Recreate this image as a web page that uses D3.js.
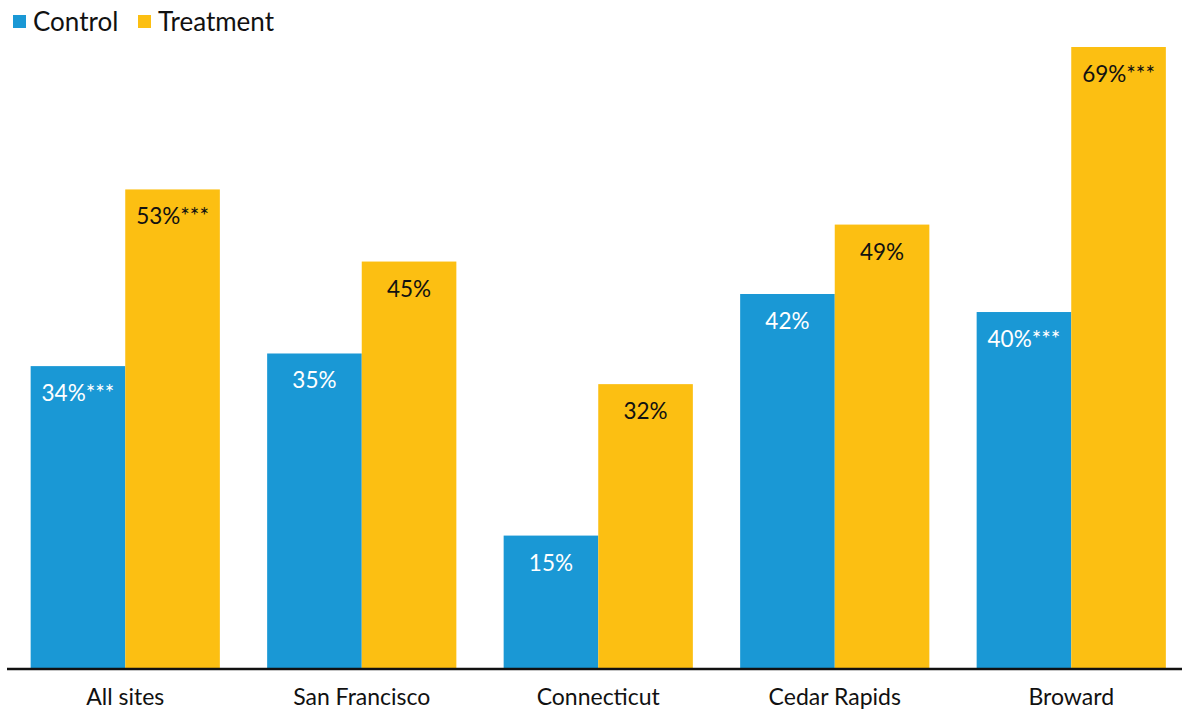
<!DOCTYPE html>
<html>
<head>
<meta charset="utf-8">
<script src="https://cdn.jsdelivr.net/npm/d3@7"></script>
<style>
  body { margin: 0; background: #fff; }
  svg text { font-family: Lato, "Open Sans", sans-serif; }
</style>
</head>
<body>
<div class="chart"></div>
<script>
var sites = ["All sites", "San Francisco", "Connecticut", "Cedar Rapids", "Broward"];
var seriesNames = ["Control", "Treatment"];
var controlValues = [33.6, 35.0, 14.8, 41.6, 39.6];
var treatmentValues = [53.2, 45.2, 31.6, 49.3, 69.0];
var controlStars = ["***", "", "", "", "***"];
var treatmentStars = ["***", "", "", "", "***"];
var colors = ["#1a98d5", "#fcbf12"];

document.addEventListener('DOMContentLoaded', function() {
  var width = 1182, height = 713;
  var baseline = 669;

  var svg = d3.select(".chart")
    .append("svg")
      .attr("width", width)
      .attr("height", height);

  var x0 = d3.scaleBand()
    .domain(sites)
    .range([7, 1189.5])
    .paddingInner(0.2)
    .paddingOuter(0.1);

  var x1 = d3.scaleBand()
    .domain(seriesNames)
    .range([0, x0.bandwidth()]);

  var y = d3.scaleLinear()
    .domain([0, 69])
    .range([baseline, 47]);

  var rows = sites.map(function(s, i) {
    return {
      site: s,
      bars: [
        { key: "Control", value: controlValues[i], stars: controlStars[i], textColor: "#ffffff" },
        { key: "Treatment", value: treatmentValues[i], stars: treatmentStars[i], textColor: "#111111" }
      ]
    };
  });

  var groups = svg.selectAll(".group")
    .data(rows)
    .enter()
    .append("g")
      .attr("class", "group")
      .attr("transform", function(d) { return "translate(" + x0(d.site) + ",0)"; });

  groups.selectAll("rect")
    .data(function(d) { return d.bars; })
    .enter()
    .append("rect")
      .attr("x", function(d) { return x1(d.key); })
      .attr("y", function(d) { return y(d.value); })
      .attr("width", x1.bandwidth())
      .attr("height", function(d) { return baseline - y(d.value); })
      .attr("fill", function(d, i) { return colors[i]; });

  // value labels inside the bars
  groups.selectAll(".value-label")
    .data(function(d) { return d.bars; })
    .enter()
    .append("text")
      .attr("class", "value-label")
      .attr("x", function(d) { return x1(d.key) + x1.bandwidth() / 2; })
      .attr("y", function(d) { return y(d.value) + 35; })
      .attr("text-anchor", "middle")
      .style("font-size", "22.5px")
      .attr("fill", function(d) { return d.textColor; })
      .text(function(d) { return Math.round(d.value) + "%" + d.stars; });

  // x axis
  var gX = svg.append("g")
    .attr("transform", "translate(0," + baseline + ")")
    .call(d3.axisBottom(x0).tickSize(0).tickPadding(20));

  gX.select(".domain")
    .attr("d", "M7,0H" + width)
    .attr("stroke", "#111")
    .attr("stroke-width", 2.5);

  gX.selectAll("text")
    .style("font-size", "23px")
    .style("font-family", "Lato, sans-serif")
    .attr("fill", "#111");

  // legend
  var legend = svg.append("g");
  var legendX = [13, 138];
  seriesNames.forEach(function(name, i) {
    legend.append("rect")
      .attr("x", legendX[i])
      .attr("y", 15)
      .attr("width", 13)
      .attr("height", 13)
      .attr("fill", colors[i]);
    legend.append("text")
      .attr("x", legendX[i] + 20)
      .attr("y", 31)
      .style("font-size", "26px")
      .attr("fill", "#111")
      .text(name);
  });
});
</script>
</body>
</html>
